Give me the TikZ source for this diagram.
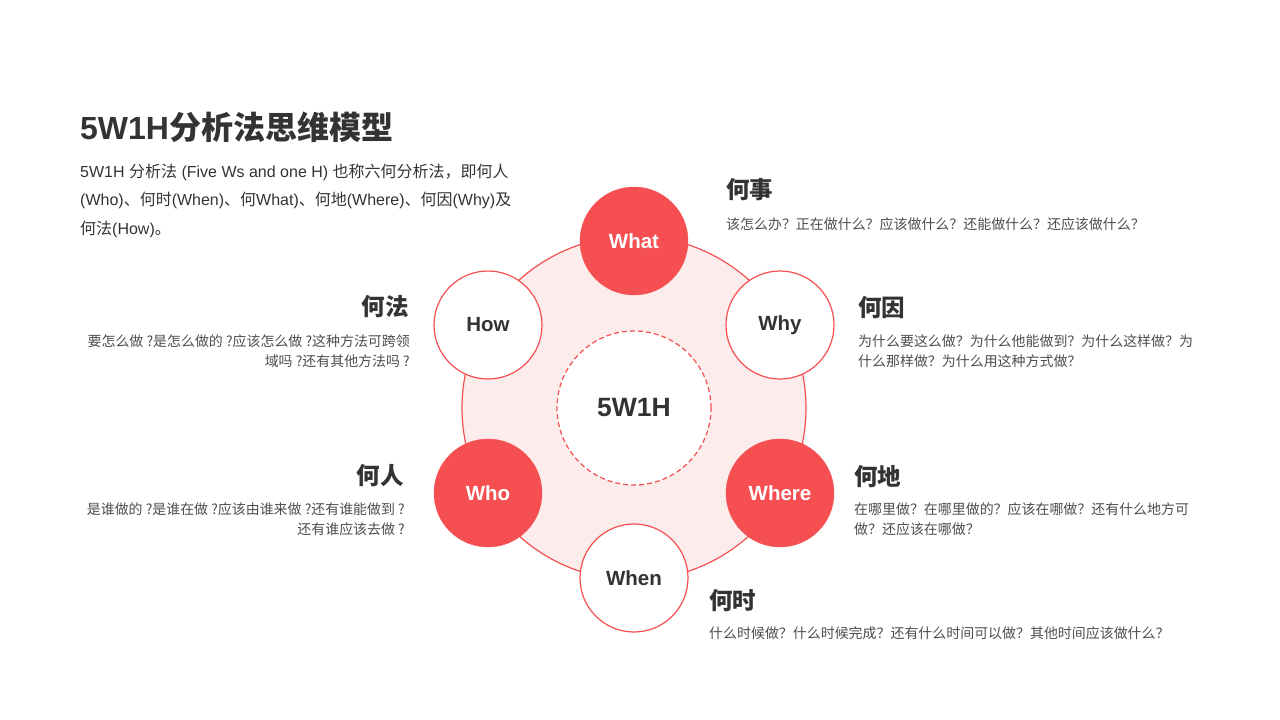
\documentclass[tikz,border=0pt]{standalone}
\usepackage{fontspec}
\setmainfont{Liberation Sans}
\newfontfamily\zhfont{Noto Sans CJK SC}
\newcommand\zh[1]{{\zhfont #1}}
\definecolor{redA}{HTML}{F54F51}
\definecolor{pinkA}{HTML}{FDECEC}
\definecolor{headc}{HTML}{333333}
\definecolor{bodyc}{HTML}{4D4D4D}
\tikzset{
  ring/.style={circle, draw=redA, line width=1.2pt, fill=pinkA, inner sep=0pt, minimum size=344pt},
  core/.style={circle, draw=redA, line width=1.2pt, dash pattern=on 5pt off 3pt, fill=white, inner sep=0pt, minimum size=154pt, text=headc, font=\fontsize{26.5}{30}\selectfont\bfseries},
  solidw/.style={circle, draw=redA, fill=redA, inner sep=0pt, minimum size=108pt, text=white, font=\fontsize{20.5}{24}\selectfont\bfseries},
  hollow/.style={circle, draw=redA, line width=1.2pt, fill=white, inner sep=0pt, minimum size=108pt, text=headc, font=\fontsize{20.5}{24}\selectfont\bfseries},
  headl/.style={inner sep=0pt, text=headc, font=\zhfont\fontsize{23.5}{28}\selectfont\bfseries},
  bodyl/.style={inner sep=0pt, text=bodyc, font=\zhfont\fontsize{13.95}{20}\selectfont},
}
\begin{document}
\begin{tikzpicture}[x=1pt,y=-1pt]
\useasboundingbox (0,0) rectangle (1280,720);
% title
\node[anchor=base west, inner sep=0pt, text=headc, font=\fontsize{32}{36}\selectfont\bfseries] (title) at (80,139) {5W1H\zh{分析法思维模型}};
\node[anchor=base west, inner sep=0pt, text=headc, align=left, font=\fontsize{16}{28.5}\selectfont] (desc) at (80,234)
  {5W1H \zh{分析法} (Five Ws and one H) \zh{也称六何分析法，即何人}\\
   (Who)\zh{、何时}(When)\zh{、何}What)\zh{、何地}(Where)\zh{、何因}(Why)\zh{及}\\
   \zh{何法}(How)\zh{。}};
% diagram
\node[ring] (ring) at (634,408) {};
\node[core] (core) at (634,408) {5W1H};
\node[solidw] (what) at (634,241) {What};
\node[hollow] (why) at (780,325) {Why};
\node[solidw] (where) at (780,493) {Where};
\node[hollow] (when) at (634,578) {When};
\node[solidw] (who) at (488,493) {Who};
\node[hollow] (how) at (488,325) {How};
% labels right side
\node[headl, anchor=base west] (whath) at (726,198) {何事};
\node[bodyl, anchor=base west, align=left] (whatt) at (726,229) {该怎么办？正在做什么？应该做什么？还能做什么？还应该做什么？};
\node[headl, anchor=base west] (whyh) at (858,316) {何因};
\node[bodyl, anchor=base west, align=left] (whyt) at (858,366) {为什么要这么做？为什么他能做到？为什么这样做？为\\什么那样做？为什么用这种方式做？};
\node[headl, anchor=base west] (whereh) at (854,485) {何地};
\node[bodyl, anchor=base west, align=left] (wheret) at (854,534) {在哪里做？在哪里做的？应该在哪做？还有什么地方可\\做？还应该在哪做？};
\node[headl, anchor=base west] (whenh) at (709,609) {何时};
\node[bodyl, anchor=base west, align=left] (whent) at (709,638) {什么时候做？什么时候完成？还有什么时间可以做？其他时间应该做什么？};
% labels left side
\node[headl, anchor=base east] (howh) at (409,315) {何法};
\node[bodyl, anchor=base east, align=right] (howt) at (410,366) {要怎么做 ?是怎么做的 ?应该怎么做 ?这种方法可跨领\\域吗 ?还有其他方法吗 ?};
\node[headl, anchor=base east] (whoh) at (404,484) {何人};
\node[bodyl, anchor=base east, align=right] (whot) at (405,534) {是谁做的 ?是谁在做 ?应该由谁来做 ?还有谁能做到 ?\\还有谁应该去做 ?};
\end{tikzpicture}
\end{document}
